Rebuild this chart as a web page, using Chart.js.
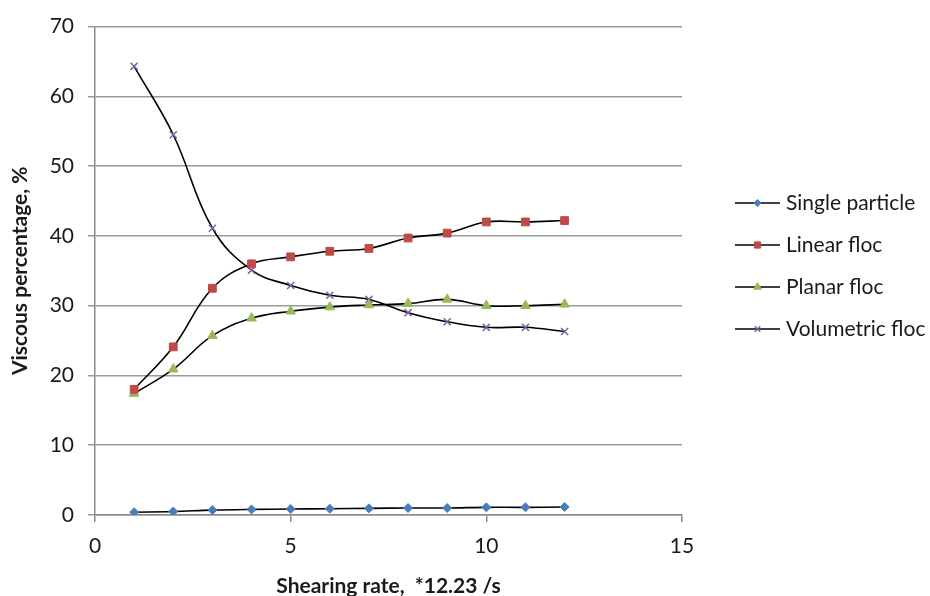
<!DOCTYPE html>
<html>
<head>
<meta charset="utf-8">
<script src="https://cdn.jsdelivr.net/npm/chart.js@4.4.0/dist/chart.umd.min.js"></script>
<style>
  html, body { margin: 0; padding: 0; background: #fff; }
  #wrap { width: 930px; height: 596px; position: relative; }
</style>
</head>
<body>
<div id="wrap"><canvas id="viscousChart"></canvas></div>
<script>
const shearRate = [1, 2, 3, 4, 5, 6, 7, 8, 9, 10, 11, 12];
const singleParticle = [0.4, 0.5, 0.7, 0.8, 0.85, 0.9, 0.95, 1.0, 1.0, 1.1, 1.1, 1.15];
const linearFloc = [18.0, 24.1, 32.5, 36.0, 37.0, 37.8, 38.2, 39.7, 40.4, 42.0, 42.0, 42.2];
const planarFloc = [17.4, 20.9, 25.7, 28.2, 29.2, 29.8, 30.1, 30.3, 30.9, 30.0, 30.0, 30.2];
const volumetricFloc = [64.3, 54.5, 41.1, 35.1, 32.9, 31.5, 30.9, 29.0, 27.7, 26.9, 26.9, 26.3];
const xTicks = [0, 5, 10, 15];
const yTicks = [0, 10, 20, 30, 40, 50, 60, 70];

const FONT = 'Lato, "Open Sans", sans-serif';

function pts(values) {
    return values.map((v, i) => ({ x: shearRate[i], y: v }));
}

function makeSet(label, values, style, color, radius) {
    return {
        label: label,
        data: pts(values),
        borderColor: '#000000',
        borderWidth: 1.6,
        tension: 0.4,
        pointStyle: style,
        pointRadius: radius,
        pointBackgroundColor: color,
        pointBorderColor: color,
        pointBorderWidth: style === 'crossRot' ? 1.5 : 1,
        fill: false
    };
}

// legend drawn as Excel does: black line with the marker in the middle
const sideLegend = {
    id: 'sideLegend',
    afterDraw: (chart) => {
        const { ctx } = chart;
        const x0 = 735, x1 = 780, top = 203, step = 42;
        chart.data.datasets.forEach((ds, i) => {
            const y = top + i * step;
            ctx.save();
            ctx.strokeStyle = '#000';
            ctx.lineWidth = 1.6;
            ctx.beginPath();
            ctx.moveTo(x0, y);
            ctx.lineTo(x1, y);
            ctx.stroke();
            ctx.fillStyle = ds.pointBackgroundColor;
            ctx.strokeStyle = ds.pointBorderColor;
            ctx.lineWidth = ds.pointBorderWidth;
            Chart.helpers.drawPoint(ctx, {
                pointStyle: ds.pointStyle,
                radius: ds.pointRadius * 0.8,
                borderWidth: ds.pointBorderWidth
            }, (x0 + x1) / 2, y);
            ctx.fillStyle = '#1a1a1a';
            ctx.font = '21px ' + FONT;
            ctx.textAlign = 'left';
            ctx.textBaseline = 'middle';
            ctx.fillText(ds.label, x1 + 6, y);
            ctx.restore();
        });
    }
};

const ctx = document.getElementById('viscousChart').getContext('2d');
new Chart(ctx, {
    type: 'line',
    plugins: [sideLegend],
    data: {
        datasets: [
            makeSet('Single particle', singleParticle, 'rectRot', '#4a7ebb', 4.5),
            makeSet('Linear floc', linearFloc, 'rect', '#be4b48', 5.5),
            makeSet('Planar floc', planarFloc, 'triangle', '#98b954', 5.5),
            makeSet('Volumetric floc', volumetricFloc, 'crossRot', '#7d60a0', 5)
        ]
    },
    options: {
        responsive: true,
        maintainAspectRatio: false,
        animation: false,
        layout: {
            padding: { top: 26, right: 248, left: 0, bottom: 0 }
        },
        plugins: {
            legend: { display: false },
            tooltip: { enabled: false }
        },
        scales: {
            x: {
                type: 'linear',
                min: 0,
                max: 15,
                afterBuildTicks: (axis) => { axis.ticks = xTicks.map(v => ({ value: v })); },
                afterFit: (axis) => { axis.height = 81; },
                border: { color: '#8c8c8c', width: 1.5 },
                grid: {
                    drawOnChartArea: false,
                    drawTicks: true,
                    tickLength: 7,
                    color: '#8c8c8c',
                    lineWidth: 1.5
                },
                ticks: {
                    padding: 12,
                    color: '#1a1a1a',
                    font: { family: FONT, size: 21 }
                },
                title: {
                    display: true,
                    text: 'Shearing rate,  *12.23 /s',
                    color: '#1a1a1a',
                    font: { family: FONT, size: 21, weight: 'bold' },
                    padding: { top: 4, bottom: -3 }
                }
            },
            y: {
                min: 0,
                max: 70,
                afterBuildTicks: (axis) => { axis.ticks = yTicks.map(v => ({ value: v })); },
                afterFit: (axis) => { axis.width = 95; },
                border: { color: '#8c8c8c', width: 1.5 },
                grid: {
                    color: '#9a9a9a',
                    lineWidth: 1.5,
                    drawTicks: true,
                    tickLength: 7
                },
                ticks: {
                    padding: 14,
                    color: '#1a1a1a',
                    font: { family: FONT, size: 21 }
                },
                title: {
                    display: true,
                    text: 'Viscous percentage, %',
                    color: '#1a1a1a',
                    font: { family: FONT, size: 21, weight: 'bold' },
                    padding: { bottom: 0, top: 8 }
                }
            }
        }
    }
});
</script>
</body>
</html>
